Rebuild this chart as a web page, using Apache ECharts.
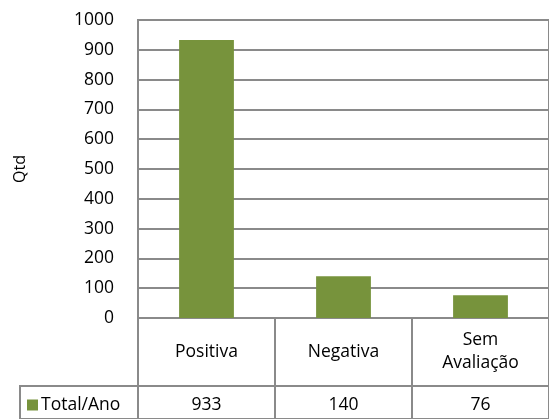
<!DOCTYPE html>
<html>
<head>
<meta charset="utf-8">
<script src="https://cdn.jsdelivr.net/npm/echarts@6/dist/echarts.min.js"></script>
<style>html,body{margin:0;padding:0;background:#fff}#c{width:549px;height:419px}</style>
</head>
<body>
<div id="c"></div>
<script>
const categories = ['Positiva', 'Negativa', 'Sem\nAvaliação'];
const seriesName = 'Total/Ano';
const values = [933, 140, 76];
const yTicks = { min: 0, max: 1000, interval: 100 };
const yName = 'Qtd';

const FONT = 'Open Sans';
const LINE = '#8a8a8a';
const GREEN = '#77933C';
const FS = 17.5;

const chart = echarts.init(document.getElementById('c'), null, { renderer: 'canvas' });
chart.setOption({
  animation: false,
  textStyle: { fontFamily: FONT },
  legend: {
    data: [seriesName], left: 27, top: 396, itemWidth: 11, itemHeight: 11, itemGap: 4,
    icon: 'rect', padding: 0, itemStyle: { borderWidth: 0 },
    textStyle: { fontFamily: FONT, fontSize: FS, color: '#000', padding: [0, 0, 0, -2] }
  },
  grid: [
    { left: 138, top: 20, right: -1, bottom: 101, show: true, borderColor: LINE, borderWidth: 2, containLabel: false },
    { left: 138, top: 318, right: -1, height: 68, show: true, borderColor: LINE, borderWidth: 2 },
    { left: 138, top: 386, right: -1, height: 40, show: true, borderColor: LINE, borderWidth: 2 },
    { left: 20, top: 386, width: 118, height: 40, show: true, borderColor: LINE, borderWidth: 2 }
  ],
  xAxis: [
    { gridIndex: 0, type: 'category', data: categories, axisLine: { show: false }, axisTick: { show: false }, axisLabel: { show: false } },
    { gridIndex: 1, type: 'category', data: categories, axisLine: { show: false }, axisTick: { show: false },
      splitLine: { show: true, lineStyle: { color: LINE, width: 2 } },
      axisLabel: { inside: true, margin: 34, verticalAlign: 'middle', align: 'center', fontFamily: FONT, fontSize: FS, color: '#000', lineHeight: 23 } },
    { gridIndex: 2, type: 'category', data: categories, axisLine: { show: false }, axisTick: { show: false },
      splitLine: { show: true, lineStyle: { color: LINE, width: 2 } },
      axisLabel: { inside: true, margin: 14, verticalAlign: 'middle', fontFamily: FONT, fontSize: FS, color: '#000',
        formatter: (v, i) => String(values[i]) } },
    { gridIndex: 3, type: 'category', data: [''], show: false }
  ],
  yAxis: [
    { gridIndex: 0, type: 'value', min: yTicks.min, max: yTicks.max, interval: yTicks.interval,
      name: yName, nameLocation: 'middle', nameGap: 110, nameRotate: 90,
      nameTextStyle: { fontFamily: FONT, fontSize: 16, color: '#000' },
      axisLine: { show: true, lineStyle: { color: LINE, width: 2 } }, axisTick: { show: false },
      splitLine: { show: true, lineStyle: { color: LINE, width: 2 } },
      axisLabel: { margin: 24, fontFamily: FONT, fontSize: FS, color: '#000', formatter: v => String(v) } },
    { gridIndex: 1, type: 'value', show: false },
    { gridIndex: 2, type: 'value', show: false },
    { gridIndex: 3, type: 'value', show: false }
  ],
  series: [
    { name: seriesName, type: 'bar', xAxisIndex: 0, yAxisIndex: 0, data: values, barWidth: '40%',
      itemStyle: { color: GREEN } }
  ]
});
</script>
</body>
</html>
